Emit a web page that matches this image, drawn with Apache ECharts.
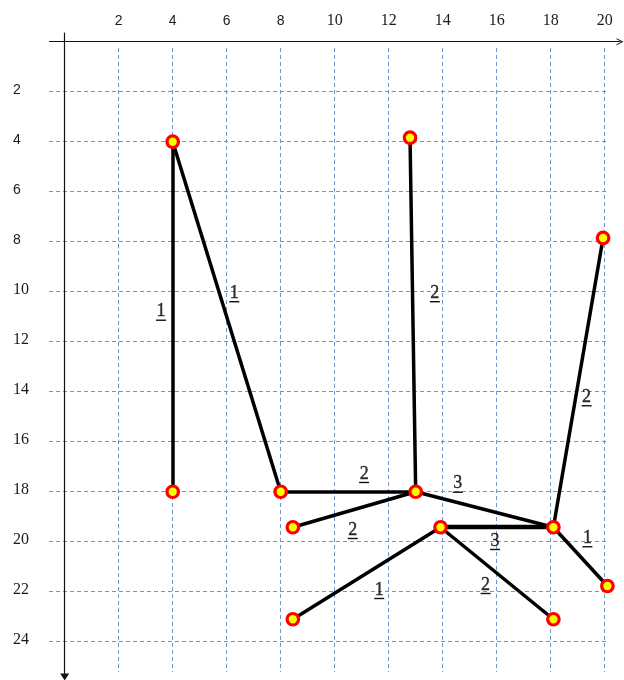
<!DOCTYPE html>
<html><head><meta charset="utf-8">
<script src="https://cdn.jsdelivr.net/npm/echarts@6/dist/echarts.min.js"></script>
<style>html,body{margin:0;padding:0;background:#fff}#c{width:624px;height:680px}</style>
</head><body><div id="c"></div><script>
const xTicks = [2,4,6,8,10,12,14,16,18,20];
const yTicks = [2,4,6,8,10,12,14,16,18,20,22,24];
const nodeNames = ['A','B','C','D','E','F','G','H','I','J','K','L'];
const nodeX = [4, 4, 8, 13, 12.79, 19.94, 18.1, 13.92, 8.45, 8.45, 18.1, 20.1];
const nodeY = [4, 18, 18, 18, 3.84, 7.85, 19.42, 19.42, 19.42, 23.1, 23.1, 21.77];
const edgeFrom = ['A','A','C','E','D','D','H','G','H','H','G'];
const edgeTo   = ['B','C','D','D','G','I','G','L','J','K','F'];
const edgeWeights = ['1','1','2','2','3','2','3','1','1','2','2'];
const labelX = [3.57, 6.28, 11.09, 13.71, 14.56, 10.67, 15.94, 19.36, 11.65, 15.59, 19.33];
const labelY = [10.8, 10.06, 17.29, 10.06, 17.68, 19.53, 19.97, 19.86, 21.93, 21.73, 14.22];

const idx = n => nodeNames.indexOf(n);
const pt = n => [nodeX[idx(n)], nodeY[idx(n)]];
const edgeData = edgeFrom.map((f, i) => ({
  coords: [pt(f), pt(edgeTo[i])],
  lineStyle: { width: (f === 'H' && edgeTo[i] === 'G') ? 4.4 : 3.5 }
}));
const nodeData = nodeNames.map((n, i) => [nodeX[i], nodeY[i]]);
const labelData = edgeWeights.map((w, i) => [labelX[i], labelY[i], w]);

const fmt = v => (v < 10 ? '{s|' : '{r|') + v + '}';
const rich = {
  s: { fontFamily: 'Liberation Sans', fontSize: 14, lineHeight: 16, color: '#1a1a1a' },
  r: { fontFamily: 'Liberation Serif', fontSize: 16, lineHeight: 16, color: '#1a1a1a' }
};
const splitStyle = { show: true, lineStyle: { color: '#6f95c9', width: 1, type: [4, 3] } };

const chart = echarts.init(document.getElementById('c'));
chart.setOption({
  backgroundColor: '#fff',
  animation: false,
  grid: [
    { left: 49, width: 560, top: 48, height: 624, outerBoundsMode: 'none', containLabel: false },
    { left: 49.5, width: 570.5, top: 33, height: 644, outerBoundsMode: 'none', containLabel: false }
  ],
  xAxis: [
    { gridIndex: 0, type: 'value', min: -0.581, max: 20.16,
      axisLine: { show: false }, axisLabel: { show: false },
      axisTick: { show: false, customValues: xTicks }, splitLine: splitStyle },
    { gridIndex: 1, type: 'value', position: 'top', min: -0.563, max: 20.567,
      axisLine: { show: true, onZero: true,
        symbol: ['none', 'path://M0,10 L5,0 L10,10 L8.6,10 L5,2.8 L1.4,10 Z'],
        symbolSize: [10, 7], lineStyle: { color: '#111', width: 1.2 } },
      axisTick: { show: false, customValues: xTicks },
      axisLabel: { customValues: xTicks, margin: 4, formatter: fmt, rich: rich },
      splitLine: { show: false } }
  ],
  yAxis: [
    { gridIndex: 0, type: 'value', inverse: true, min: 0.252, max: 25.21,
      axisLine: { show: false }, axisLabel: { show: false },
      axisTick: { show: false, customValues: yTicks }, splitLine: splitStyle },
    { gridIndex: 1, type: 'value', inverse: true, min: -0.348, max: 25.41,
      axisLine: { show: true, onZero: true, symbol: ['triangle', 'none'],
        symbolSize: [9, 7], lineStyle: { color: '#111', width: 1.2 } },
      axisTick: { show: false, customValues: yTicks },
      axisLabel: { customValues: yTicks, margin: 36.5, align: 'left',
        padding: [0, 0, 4, 0], formatter: fmt, rich: rich },
      splitLine: { show: false } }
  ],
  series: [
    { type: 'lines', coordinateSystem: 'cartesian2d', xAxisIndex: 1, yAxisIndex: 1,
      data: edgeData, lineStyle: { color: '#000', width: 3.5, opacity: 1, curveness: 0 },
      symbol: 'none', z: 3 },
    { type: 'scatter', xAxisIndex: 1, yAxisIndex: 1, data: nodeData,
      symbol: 'circle', symbolSize: 11.5,
      itemStyle: { color: '#ffff00', borderColor: '#ff0000', borderWidth: 3.2, opacity: 1 },
      z: 5 },
    { type: 'scatter', xAxisIndex: 1, yAxisIndex: 1, data: labelData,
      symbol: 'rect', symbolSize: [10, 1.4], symbolOffset: [0, 8.5], silent: true, z: 6,
      itemStyle: { color: '#111', opacity: 1 } },
    { type: 'scatter', xAxisIndex: 1, yAxisIndex: 1, data: labelData,
      symbolSize: 0, silent: true, z: 6,
      label: { show: true, position: 'inside', color: '#000',
        fontFamily: 'Liberation Serif', fontSize: 18,
        textBorderColor: '#000', textBorderWidth: 0.4,
        formatter: p => p.value[2] } }
  ]
});
</script></body></html>
